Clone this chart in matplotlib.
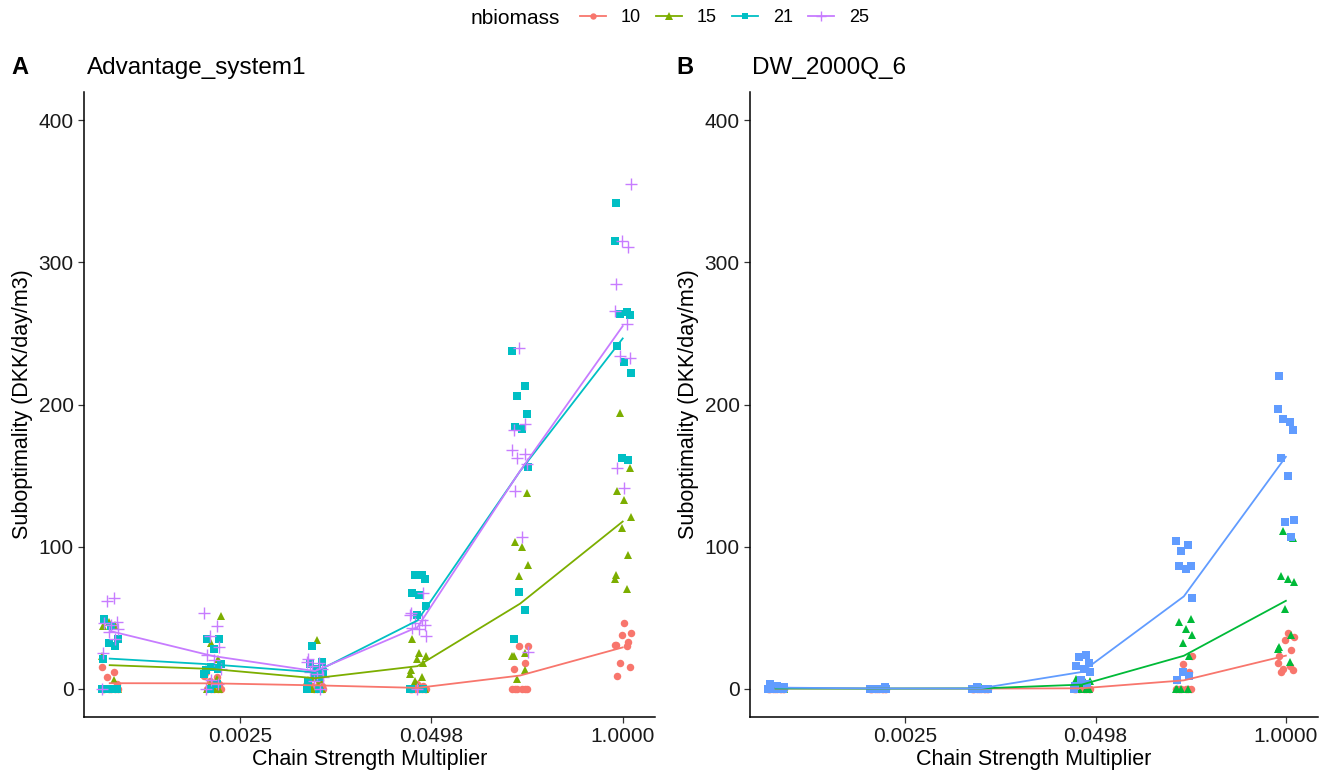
import numpy as np
import matplotlib
matplotlib.use("Agg")
import matplotlib.pyplot as plt
from matplotlib.lines import Line2D

plt.rcParams['font.family'] = ['Liberation Sans', 'DejaVu Sans']

# ── data ────────────────────────────────────────────────────────────────────
chain_strength = [0.00032, 0.0016, 0.008, 0.04, 0.2, 1.0]
tick_values = [np.exp(-6), np.exp(-3), 1.0]
tick_labels = ["0.0025", "0.0498", "1.0000"]
nbiomass_levels = ["10", "15", "21", "25"]

# Advantage_system1: suboptimality of each run, one list per chain strength
adv_10 = [
    [15, 12, 8, 3, 0, 0, 0, 0, 0, 0],
    [12, 9, 8, 5, 3, 0, 0, 0, 0, 0],
    [6, 5, 4, 3, 2, 2, 1, 0, 0, 0],
    [3, 2, 0, 0, 0, 0, 0, 0, 0, 0],
    [30, 30, 18, 14, 0, 0, 0, 0, 0, 0],
    [46, 39, 38, 33, 31, 31, 30, 18, 15, 9],
]
adv_15 = [
    [47, 45, 44, 23, 6, 0, 0, 0, 0, 0],
    [51, 32, 21, 14, 10, 7, 3, 0, 0, 0],
    [34, 10, 8, 7, 6, 5, 3, 0, 0, 0],
    [35, 25, 23, 21, 18, 13, 10, 8, 5, 0],
    [138, 103, 100, 87, 79, 25, 23, 23, 13, 7],
    [194, 155, 139, 133, 121, 113, 94, 80, 77, 70],
]
adv_21 = [
    [49, 44, 35, 32, 30, 21, 0, 0, 0, 0],
    [35, 35, 28, 17, 15, 14, 13, 10, 3, 0],
    [30, 19, 17, 14, 12, 10, 8, 5, 0, 0],
    [80, 80, 77, 67, 66, 58, 52, 0, 0, 0],
    [238, 213, 206, 193, 184, 183, 156, 68, 55, 35],
    [342, 315, 265, 264, 263, 241, 230, 222, 162, 161],
]
adv_25 = [
    [64, 62, 47, 46, 45, 42, 40, 35, 25, 0],
    [53, 44, 37, 29, 24, 20, 14, 6, 3, 0],
    [21, 19, 18, 16, 14, 12, 10, 8, 5, 0],
    [67, 53, 52, 48, 46, 45, 43, 42, 37, 0],
    [240, 186, 182, 168, 165, 162, 158, 139, 107, 26],
    [355, 315, 311, 285, 266, 257, 234, 233, 155, 141],
]

# DW_2000Q_6
dw_10 = [
    [0, 0, 0, 0, 0, 0, 0, 0, 0, 0],
    [0, 0, 0, 0, 0, 0, 0, 0, 0, 0],
    [0, 0, 0, 0, 0, 0, 0, 0, 0, 0],
    [1, 1, 0, 0, 0, 0, 0, 0, 0, 0],
    [23, 17, 12, 6, 0, 0, 0, 0, 0, 0],
    [39, 36, 34, 27, 23, 18, 16, 14, 13, 12],
]
dw_15 = [
    [1, 0, 0, 0, 0, 0, 0, 0, 0, 0],
    [0, 0, 0, 0, 0, 0, 0, 0, 0, 0],
    [1, 0, 0, 0, 0, 0, 0, 0, 0, 0],
    [7, 6, 5, 4, 3, 2, 1, 0, 0, 0],
    [49, 47, 42, 38, 32, 23, 0, 0, 0, 0],
    [111, 106, 79, 77, 75, 56, 38, 29, 28, 19],
]
dw_21 = [
    [3, 2, 1, 1, 0, 0, 0, 0, 0, 0],
    [1, 0, 0, 0, 0, 0, 0, 0, 0, 0],
    [1, 0, 0, 0, 0, 0, 0, 0, 0, 0],
    [24, 22, 18, 16, 14, 12, 6, 3, 2, 0],
    [104, 101, 97, 86, 86, 84, 64, 12, 9, 6],
    [220, 197, 188, 190, 182, 162, 150, 119, 117, 107],
]

# ── style ───────────────────────────────────────────────────────────────────
pal4 = ["#F8766D", "#7CAE00", "#00BFC4", "#C77CFF"]
pal3 = ["#F8766D", "#00BA38", "#619CFF"]
markers = ["o", "^", "s", "+"]
msizes = [5.4, 6.4, 5.4, 8.5]
jitter = np.array([-0.9, 0.5, -0.3, 0.8, -0.6, 0.2, 0.95, -0.1, 0.6, -0.75])
jit_w = 0.06  # log10 units

W, H = 1333, 778
fig = plt.figure(figsize=(W / 100, H / 100), dpi=100)
axA = fig.add_axes([84 / W, 61 / H, 571 / W, 625 / H])
axB = fig.add_axes([750 / W, 61 / H, 568 / W, 625 / H])


def draw_panel(ax, groups, colors):
    for g, (runs, col) in enumerate(zip(groups, colors)):
        for c, (x, vals) in enumerate(zip(chain_strength, runs)):
            off = np.roll(jitter, 3 * g + c)[:len(vals)]
            xs = x * 10 ** (jit_w * off)
            ax.plot(xs, vals, linestyle="none", marker=markers[g], ms=msizes[g],
                    color=col, mew=1.0 if markers[g] == "+" else 0, zorder=2)
        means = [np.mean(v) for v in runs]
        ax.plot(chain_strength, means, color=col, lw=1.3, zorder=3)

    ax.set_xscale("log")
    ax.set_xlim(10 ** -3.67, 10 ** 0.22)
    ax.set_ylim(-20, 420)
    ax.set_xticks(tick_values)
    ax.set_xticklabels(tick_labels)
    ax.xaxis.set_minor_locator(matplotlib.ticker.NullLocator())
    ax.set_yticks([0, 100, 200, 300, 400])
    for s in ("top", "right"):
        ax.spines[s].set_visible(False)
    for s in ("left", "bottom"):
        ax.spines[s].set_linewidth(1.1)
    ax.tick_params(length=4.5, width=0.9, color="#333333", labelsize=15,
                   labelcolor="#1a1a1a", pad=3)
    ax.set_xlabel("Chain Strength Multiplier", fontsize=15.5, labelpad=2)
    ax.set_ylabel("Suboptimality (DKK/day/m3)", fontsize=15.5, labelpad=4)


draw_panel(axA, [adv_10, adv_15, adv_21, adv_25], pal4)
draw_panel(axB, [dw_10, dw_15, dw_21], pal3)

# titles and tags
fig.text(87 / W, 1 - 68 / H, "Advantage_system1", fontsize=17.5, va="center")
fig.text(752 / W, 1 - 68 / H, "DW_2000Q_6", fontsize=17.5, va="center")
fig.text(11 / W, 1 - 68 / H, "A", fontsize=17, fontweight="bold", va="center")
fig.text(676 / W, 1 - 68 / H, "B", fontsize=17, fontweight="bold", va="center")

# legend
handles = [Line2D([], [], color=c, marker=m, ms=s * 0.85, lw=1.3,
                  mew=1.0 if m == "+" else 0)
           for c, m, s in zip(pal4, markers, msizes)]
fig.text(471 / W, 1 - 18 / H, "nbiomass", fontsize=15, va="center")
fig.legend(handles, nbiomass_levels, ncol=4, loc="center left",
           bbox_to_anchor=(580 / W, 1 - 18 / H), frameon=False, fontsize=13,
           handlelength=1.45, handletextpad=0.8, columnspacing=0.85,
           borderpad=0, borderaxespad=0)

fig.savefig("out.png", dpi=100, facecolor="white")
